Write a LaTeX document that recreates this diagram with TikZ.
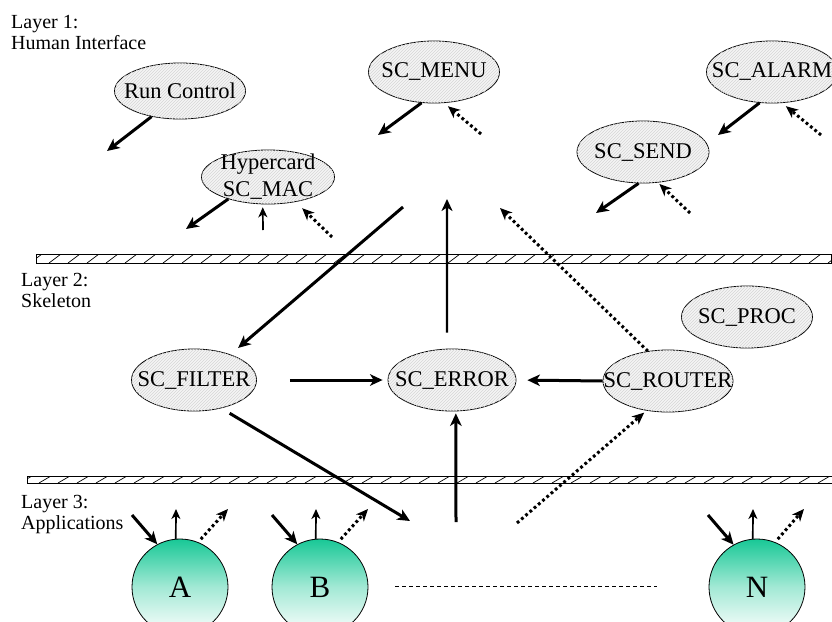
\documentclass[tikz,border=0pt]{standalone}
\usepackage{fontspec}
\setmainfont{Liberation Serif}
\usetikzlibrary{shapes.geometric,arrows.meta,patterns}
\definecolor{appgreen}{RGB}{24,200,150}
\newcommand\nodefont{\fontsize{22.5}{27}\selectfont}
\newcommand\layerfont{\fontsize{20}{21}\selectfont}
\newcommand\appfont{\fontsize{31}{31}\selectfont}
\begin{document}
\begin{tikzpicture}[x=1pt,y=-1pt,
  sc/.style={ellipse, draw, line width=0.8pt, inner sep=0pt,
    minimum width=131pt, minimum height=62pt, fill=black!4,
    postaction={pattern=north east lines, pattern color=black!16},
    label={[font=\nodefont, align=center, inner sep=0pt]center:#1}},
  app/.style={circle, draw, line width=0.8pt, inner sep=0pt,
    minimum size=96pt, top color=appgreen, bottom color=white,
    middle color=appgreen!40, font=\appfont},
  layer/.style={anchor=north west, inner sep=0pt, align=left, font=\layerfont},
  thickarrow/.style={line width=3pt, -{Stealth[length=12.5pt,width=11.5pt,inset=3.5pt]}},
  midarrow/.style={line width=2.2pt, -{Stealth[length=12pt,width=11pt,inset=3.5pt]}},
  thinarrow/.style={line width=1.7pt, -{Stealth[length=10pt,width=9pt,inset=3pt]}},
  dotarrow/.style={line width=3pt, dash pattern=on 2.8pt off 2.8pt,
    -{Stealth[length=12pt,width=10.5pt,inset=3.5pt]}},
  bar/.style={line width=0.9pt},
  hatch/.style={line width=0.7pt}]

\useasboundingbox (0,0) rectangle (832,621);
\clip (0,0) rectangle (832,621);

% layer captions
\node[layer] (l1) at (11,15) {Layer 1:\\Human Interface};
\node[layer] (l2) at (21,273) {Layer 2:\\Skeleton};
\node[layer] (l3) at (21,495) {Layer 3:\\Applications};

% hatched separators between the layers
\begin{scope}
  \clip (36,254) rectangle (831,263);
  \foreach \x in {30,49,...,850} \draw[hatch] (\x,263) -- (\x+12,254);
\end{scope}
\draw[bar] (36,254) rectangle (831,263);
\begin{scope}
  \clip (27,476) rectangle (840,483);
  \foreach \x in {20,39,...,850} \draw[hatch] (\x,483) -- (\x+12,476);
\end{scope}
\draw[bar] (27,476) rectangle (840,483);

% layer 1 processes
\node[sc={Run Control}, minimum height=56pt] (rc) at (180,91) {};
\node[sc={Hypercard\\SC\_MAC}, minimum width=133pt, minimum height=54pt] (hc) at (268,177) {};
\node[sc={SC\_MENU}] (menu) at (434,72) {};
\node[sc={SC\_ALARM}] (alarm) at (772,72) {};
\node[sc={SC\_SEND}, minimum width=132pt] (send) at (643,152) {};

% layer 2 processes
\node[sc={SC\_FILTER}, minimum width=125pt] (filter) at (194,380) {};
\node[sc={SC\_ERROR}, minimum width=128pt] (scerror) at (452,380) {};
\node[sc={SC\_ROUTER}, minimum width=130pt] (router) at (668,381) {};
\node[sc={SC\_PROC}] (proc) at (747,317) {};

% layer 3 applications
\node[app] (appA) at (180,587) {A};
\node[app] (appB) at (320,587) {B};
\node[app] (appN) at (757,587) {N};
\coordinate (dashL) at (395,586);
\coordinate (dashR) at (657,586);
\draw[line width=0.8pt, dash pattern=on 4pt off 3pt] (dashL) -- (dashR);

% free ends of the message arrows
\coordinate (rcOut) at (107,151);
\coordinate (hcOut) at (186,229);
\coordinate (hcUp) at (263,230);
\coordinate (hcIn) at (332,237);
\coordinate (menuOut) at (378,135);
\coordinate (menuIn) at (481,134);
\coordinate (alarmOut) at (718,135);
\coordinate (alarmIn) at (821,135);
\coordinate (sendOut) at (596,213);
\coordinate (sendIn) at (690,213);
\coordinate (topIn) at (403,207);
\coordinate (topOut) at (447,199);
\coordinate (topDot) at (500,208);
\coordinate (lowOut) at (410,521);
\coordinate (lowUp) at (456,522);
\coordinate (lowDot) at (517,523);
\coordinate (aIn) at (132,515);
\coordinate (aUp) at (176,509);
\coordinate (aDot) at (228,509);
\coordinate (bIn) at (272,515);
\coordinate (bUp) at (316,509);
\coordinate (bDot) at (368,509);
\coordinate (nIn) at (708,515);
\coordinate (nUp) at (753,509);
\coordinate (nDot) at (804,509);

% layer 1 traffic
\draw[thickarrow] (rc.222) -- (rcOut);
\draw[thickarrow] (hc.209) -- (hcOut);
\draw[thinarrow, shorten >=3pt] (hcUp) -- (hc.259.5);
\draw[dotarrow, shorten >=9pt] (hcIn) -- (hc.-42);
\draw[thickarrow] (menu.248) -- (menuOut);
\draw[dotarrow, shorten >=5pt] (menuIn) -- (menu.-72);
\draw[thickarrow] (alarm.248) -- (alarmOut);
\draw[dotarrow, shorten >=5pt] (alarmIn) -- (alarm.-72);
\draw[thickarrow] (send.262) -- (sendOut);
\draw[dotarrow, shorten >=2pt] (sendIn) -- (send.-64);

% skeleton traffic
\draw[thickarrow, shorten >=10pt] (topIn) -- (filter.35);
\draw[thickarrow, shorten <=33pt, shorten >=5pt] (filter.east) -- (scerror.west);
\draw[thickarrow, shorten <=9.7pt] (filter.-46) -- (lowOut);
\draw[midarrow, shorten <=16pt] (scerror.99) -- (topOut);
\draw[thickarrow, shorten >=2pt] (lowUp) -- (scerror.-83);
\draw[thickarrow, shorten >=11pt] (router.west) -- (scerror.east);
\draw[dotarrow] (router.124) -- (topDot);
\draw[dotarrow, shorten >=3pt] (lowDot) -- (router.234);

% application traffic
\draw[thickarrow] (aIn) -- (appA.118);
\draw[thinarrow] (appA.95) -- (aUp);
\draw[dotarrow, shorten <=4pt] (appA.68) -- (aDot);
\draw[thickarrow] (bIn) -- (appB.118);
\draw[thinarrow] (appB.95) -- (bUp);
\draw[dotarrow, shorten <=4pt] (appB.68) -- (bDot);
\draw[thickarrow] (nIn) -- (appN.119);
\draw[thinarrow] (appN.95) -- (nUp);
\draw[dotarrow, shorten <=4pt] (appN.68) -- (nDot);
\end{tikzpicture}
\end{document}
